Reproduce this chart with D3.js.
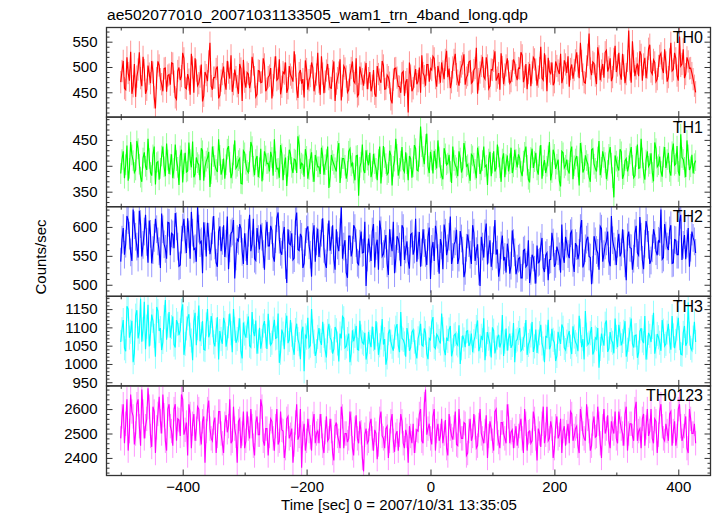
<!DOCTYPE html>
<html><head><meta charset="utf-8">
<script src="https://cdn.jsdelivr.net/npm/d3@7"></script>
<style>body{margin:0;background:#fff}svg{display:block}text{font-family:"Liberation Sans",Arial,Helvetica,sans-serif;fill:#000}</style>
</head><body><div id="c"></div>
<script>
const title = "ae502077010_20071031133505_wam1_trn_4band_long.qdp";
const xLabel = "Time [sec] 0 = 2007/10/31 13:35:05";
const yLabel = "Counts/sec";
const panelNames = ["TH0","TH1","TH2","TH3","TH0123"];
const panelColors = ["#ff0000","#00ff00","#0000ff","#00ffff","#ff00ff"];
const timeStart = -500, timeStep = 2;
const xDomain = [-523, 452];
const xMajorTicks = [-400,-200,0,200,400];
const xMinorTicks = [-500,-300,-100,100,300];
const yDomains = [[401,578],[321,494],[480,635],[940,1185],[2328,2695]];
const yMajorTicks = [[450,500,550],[350,400,450],[500,550,600],[950,1000,1050,1100,1150],[2400,2500,2600]];
const yMinorStep = [10,10,10,10,20];
const errHalf = [22,20,24,33,50];

// even bins (t = -500, -496, ...) and odd bins (t = -498, -494, ...)
const th0Even = [470,512,455,488,530,462,441,495,478,520,447,503,468,489,418,511,476,452,498,483,
465,507,440,492,474,528,459,486,445,499,517,463,481,432,490,472,548,455,479,501,
444,486,468,512,477,451,495,462,506,433,471,489,458,520,480,446,492,470,505,457,
483,438,499,474,515,461,487,449,502,479,531,456,488,467,440,496,474,509,452,485,
470,521,448,493,476,458,511,467,489,434,502,481,455,498,472,517,446,487,463,508,
478,452,494,441,486,469,503,457,480,436,475,498,462,449,491,470,410,483,458,496,
472,449,488,463,505,497,521,478,502,469,491,514,480,458,499,526,473,490,507,465,
484,512,471,498,447,489,520,476,503,462,494,531,479,455,500,485,517,468,492,508,
474,497,523,481,456,506,489,515,463,498,478,527,452,491,509,470,502,486,468,513,
488,461,505,494,529,478,512,470,501,566,484,507,466,521,493,479,533,499,472,516,
490,528,475,503,486,572,469,511,497,482,524,505,478,536,491,514,471,502,527,488,
509,480,548,495,517,473,502,535,486,511,498,476,450];
const th0Odd = [492,458,519,473,447,506,481,529,462,494,455,487,512,440,478,503,466,497,451,485,
508,471,436,499,482,517,457,475,526,449,493,468,505,443,484,511,462,479,496,438,
473,501,455,489,523,466,480,447,497,514,459,486,472,505,441,493,469,517,452,480,
498,464,521,477,446,490,509,458,485,471,503,439,494,476,513,455,482,499,467,528,
445,487,471,506,459,492,433,478,515,463,497,450,484,511,468,442,501,476,489,456,
490,463,447,502,475,512,456,484,469,428,497,479,461,488,443,476,509,452,481,466,
499,523,482,505,471,494,517,461,488,509,476,532,497,470,514,486,463,501,525,479,
510,468,494,538,476,502,481,519,457,495,512,473,488,527,466,503,491,472,515,484,
498,529,470,506,488,462,519,495,481,540,474,502,518,487,464,511,493,526,479,505,
521,496,477,513,502,548,485,468,524,497,510,483,539,474,506,529,491,517,480,542,
503,487,526,468,512,495,551,482,507,531,473,518,499,544,486,509,476,522,497,535,
471,515,492,528,483,560,506,478,519,497,488,463];

const th1Even = [385,428,402,371,446,410,392,433,378,415,399,452,387,421,364,408,395,437,380,411,
403,376,441,397,419,368,425,390,412,447,384,406,372,429,398,415,359,437,401,388,
420,393,375,432,407,386,449,399,414,365,425,391,408,437,382,419,396,370,428,404,
389,416,451,394,377,423,402,361,431,397,413,386,440,405,379,418,393,426,369,410,
398,435,383,412,357,421,403,389,444,396,414,375,428,400,386,419,342,407,392,430,
401,378,423,395,412,366,438,404,387,420,399,452,381,409,393,426,372,414,398,433,
390,476,418,441,399,427,385,412,449,396,374,423,405,389,437,401,380,415,396,428,
402,371,419,393,435,384,410,398,363,427,405,389,441,396,413,378,420,404,386,431,
397,415,380,426,401,368,433,408,392,419,375,411,399,446,387,422,403,371,428,396,
412,385,437,400,419,362,425,394,410,378,431,403,389,448,397,416,374,422,405,339,
409,391,427,383,414,400,436,377,418,395,452,386,411,399,424,370,433,402,389,417,
396,425,381,443,404,389,461,412,378,421,398,385,410];
const th1Odd = [412,376,439,395,421,387,448,403,369,426,392,414,381,437,406,373,419,398,443,384,
422,395,410,363,431,404,388,445,397,378,416,402,434,371,409,427,385,418,393,451,
383,414,402,438,376,421,395,410,366,429,403,387,446,399,412,378,433,392,419,405,
427,381,408,395,440,372,416,399,423,386,411,457,394,402,432,375,413,389,421,398,
384,419,402,437,379,410,396,428,367,414,401,389,433,405,372,420,397,441,386,411,
425,389,404,372,437,398,416,383,429,362,409,422,395,436,388,404,419,377,440,392,
418,437,403,462,386,411,429,395,417,381,434,402,421,367,410,396,428,387,444,399,
386,422,405,376,418,392,437,401,413,380,428,396,417,369,424,403,389,435,398,412,
422,389,409,437,374,416,396,425,383,440,400,386,419,372,431,394,412,360,425,401,
391,427,374,413,398,444,387,420,403,369,433,395,417,382,428,406,391,436,377,420,
398,432,375,410,389,423,401,381,441,396,415,373,428,404,387,445,398,418,379,436,
412,389,427,401,438,381,416,397,449,392,421,404];

const th2Even = [540,598,571,612,556,630,583,547,605,569,621,538,588,560,614,575,529,596,562,608,
551,587,624,566,534,599,578,615,545,590,563,636,572,520,584,607,553,594,568,531,
601,576,548,618,563,592,511,579,605,557,589,534,621,570,545,598,561,583,526,609,
567,594,540,615,578,552,600,503,571,589,546,625,559,583,537,596,568,514,603,575,
548,590,562,529,611,577,544,596,558,635,566,521,584,549,603,572,535,592,556,498,
580,541,605,567,526,594,553,586,517,572,609,545,579,532,598,561,541,587,552,614,
568,531,596,555,583,510,574,602,546,579,527,590,563,618,548,575,536,593,559,524,
587,552,603,541,570,498,566,589,535,577,549,612,561,530,585,548,571,519,594,556,
528,547,512,561,534,503,552,526,568,540,581,522,555,543,590,531,566,549,604,538,
571,546,593,522,567,555,612,537,578,549,501,584,560,526,597,553,575,541,619,566,
534,588,556,571,508,592,563,545,602,551,583,527,610,569,542,596,558,576,630,547,
585,560,603,538,577,552,621,569,544,598,564,581,555];
const th2Odd = [578,552,619,585,541,603,566,628,549,592,574,611,537,581,596,558,623,570,545,607,
589,563,601,532,578,614,555,587,626,561,540,597,575,608,549,583,566,619,538,592,
558,603,571,527,589,612,549,576,597,536,565,590,558,614,542,579,604,553,588,567,
602,548,579,625,557,586,534,596,569,543,610,561,588,529,574,601,552,583,540,597,
571,615,537,582,559,603,526,568,591,545,577,512,584,560,598,538,571,555,609,547,
563,592,530,578,611,549,571,537,596,558,520,584,566,603,543,575,528,589,561,540,
591,556,572,534,599,562,541,587,519,568,604,551,583,536,570,595,547,580,513,564,
572,536,590,558,523,583,547,606,561,531,577,552,514,568,542,521,556,533,572,518,
545,512,559,531,577,524,547,502,538,566,529,551,508,544,573,536,558,521,549,583,
553,589,538,572,544,598,530,563,583,547,526,575,555,601,540,568,592,532,577,558,
571,549,596,537,582,564,526,589,555,617,543,571,598,536,563,586,551,574,544,605,
566,594,537,578,552,609,543,586,571,531,592,575];

const th3Even = [1060,1120,1035,1150,1088,1005,1132,1070,1178,1095,1040,1162,1083,1118,1020,1145,1098,1060,1175,1105,
1072,1130,1045,1110,1092,1163,1055,1125,1080,1010,1140,1098,1062,1117,1038,1150,1085,1106,1048,1128,
1090,1055,1112,1070,1138,1032,1096,1068,1125,1015,1083,1104,1050,1142,1076,1028,1099,1063,1117,1041,
1086,1058,1121,1072,1003,1094,1040,1132,1066,1080,1025,1110,1054,1088,980,1072,1045,1150,1061,1035,
1098,1052,1077,1018,1110,1064,1041,1092,1007,1070,1125,1048,1083,1029,1062,1104,1038,1075,1055,1012,
1088,1046,1068,1117,1025,1072,1053,998,1084,1061,1036,1099,1050,1142,1066,1020,1079,1045,1093,1032,
1070,1110,1049,1085,1013,1066,1128,1042,1075,1056,1095,1024,1063,1104,1037,1082,1051,1000,1078,1046,
1091,1058,1032,1076,1119,1048,1065,1010,1087,1054,1100,1029,1072,1045,1134,1061,1036,1083,1052,1005,
1067,1098,1041,1079,1025,1062,1115,1048,1030,1084,1056,1005,1073,1040,1096,1058,1022,1069,1108,1044,
1061,1090,1027,1075,1053,1132,1046,1012,1080,1058,1101,1035,1068,990,1083,1050,1119,1042,1065,1029,
1074,1107,1051,1088,1020,1066,1124,1045,1079,1031,1098,1057,1012,1085,1060,1140,1048,1073,1036,1091,
1055,1110,1039,1078,1063,1126,1027,1085,1050,1168,1044,1072,1060];
const th3Odd = [1095,1043,1158,1072,1118,1030,1147,1088,1061,1170,1102,1048,1135,1077,1156,1090,1038,1128,1066,1142,
1101,1053,1120,1079,1145,1025,1097,1136,1064,1115,1051,1160,1082,1040,1108,1073,1131,1059,1093,1012,
1068,1126,1047,1103,1084,1150,1058,1092,1035,1113,1072,1130,1046,1089,1119,1061,1042,1105,1076,1137,
1052,1097,1070,1138,1031,1083,1106,1057,1120,1044,1093,1068,1013,1102,1078,1126,1050,1089,1022,1074,
1063,1115,1037,1090,1072,1028,1101,1056,1083,1130,1044,1068,1005,1092,1077,1040,1118,1059,1085,1033,
1060,1102,1039,1081,1051,1123,1068,1018,1094,1047,1075,1109,1032,1070,1056,1098,1036,1087,1061,1015,
1084,1052,1097,1028,1070,1115,1046,1081,1063,1138,1039,1072,1094,1021,1078,1056,1106,1043,1067,1089,
1049,1083,1062,1101,1035,1077,1125,1054,1069,1018,1091,1045,1080,1059,1022,1097,1070,1044,1112,1063,
1085,1036,1069,1120,1052,1078,1033,1094,1061,1107,1042,1075,1121,1050,1066,1008,1088,1055,1099,1038,
1079,1047,1103,1060,1035,1091,1068,1145,1053,1084,1026,1072,1098,1041,1066,1110,1033,1087,1058,1124,
1046,1082,1063,1117,1039,1095,1055,1078,1017,1089,1064,1131,1045,1077,1101,1028,1082,1058,1120,1049,
1086,1062,1131,1043,1097,1071,1025,1104,1058,1083,1037,1115];

const th0123Even = [2480,2620,2540,2430,2660,2570,2500,2640,2450,2590,2530,2685,2490,2610,2420,2580,2550,2660,2470,2600,
2530,2450,2620,2560,2490,2640,2515,2410,2580,2540,2470,2610,2500,2550,2380,2600,2520,2470,2565,2490,
2590,2460,2540,2505,2640,2470,2520,2380,2560,2500,2440,2590,2480,2530,2410,2570,2495,2610,2450,2520,
2490,2550,2430,2600,2470,2515,2400,2560,2480,2520,2455,2620,2490,2360,2540,2470,2510,2430,2580,2500,
2460,2530,2420,2570,2480,2510,2390,2545,2470,2610,2440,2500,2480,2540,2410,2575,2460,2505,2345,2520,
2470,2560,2430,2500,2455,2590,2480,2520,2400,2550,2470,2495,2430,2580,2460,2515,2380,2490,2540,2470,
2510,2600,2460,2680,2520,2480,2570,2430,2540,2490,2460,2555,2410,2520,2475,2590,2450,2510,2480,2540,
2420,2560,2490,2525,2450,2600,2480,2510,2400,2550,2470,2590,2500,2440,2545,2480,2620,2460,2515,2490,
2450,2530,2480,2600,2430,2510,2470,2560,2390,2500,2540,2460,2610,2480,2520,2440,2570,2495,2420,2530,
2505,2460,2580,2490,2530,2420,2560,2480,2620,2510,2450,2570,2490,2540,2400,2600,2520,2470,2550,2500,
2480,2590,2520,2450,2610,2500,2540,2470,2630,2510,2440,2580,2525,2490,2600,2460,2550,2495,2620,2480,
2540,2470,2590,2510,2450,2600,2530,2490,2570,2420,2560,2500,2460];
const th0123Odd = [2570,2460,2640,2510,2590,2455,2620,2530,2680,2480,2560,2610,2445,2590,2525,2650,2500,2575,2430,2620,
2510,2600,2470,2555,2660,2495,2545,2620,2440,2580,2520,2600,2455,2570,2510,2635,2480,2545,2420,2590,
2500,2420,2575,2530,2460,2610,2490,2550,2440,2590,2470,2520,2600,2450,2545,2495,2640,2470,2520,2410,
2560,2480,2530,2455,2590,2510,2440,2570,2495,2380,2545,2475,2600,2500,2430,2560,2485,2540,2460,2510,
2580,2450,2505,2470,2560,2420,2530,2490,2440,2570,2500,2465,2590,2440,2520,2480,2550,2400,2495,2460,
2540,2480,2515,2395,2560,2490,2440,2530,2470,2580,2425,2510,2495,2550,2440,2490,2530,2460,2420,2515,
2580,2470,2620,2495,2540,2455,2600,2510,2470,2560,2500,2440,2580,2490,2525,2455,2600,2480,2545,2410,
2510,2470,2580,2440,2535,2500,2460,2575,2490,2520,2430,2600,2465,2545,2500,2460,2570,2505,2440,2530,
2490,2560,2420,2540,2505,2460,2590,2480,2520,2445,2610,2495,2470,2550,2400,2530,2480,2560,2510,2450,
2540,2590,2470,2520,2450,2600,2500,2470,2560,2430,2540,2485,2610,2460,2530,2500,2575,2440,2520,2590,
2460,2550,2500,2580,2430,2540,2490,2600,2470,2520,2560,2450,2600,2510,2480,2560,2420,2590,2530,2470,
2510,2580,2450,2550,2490,2620,2470,2530,2440,2600,2500,2540];

const interleave = (a, b) => d3.merge(a.map((v, i) => i < b.length ? [v, b[i]] : [v]));
const series = [
  interleave(th0Even, th0Odd), interleave(th1Even, th1Odd), interleave(th2Even, th2Odd),
  interleave(th3Even, th3Odd), interleave(th0123Even, th0123Odd)
];

const W = 717, H = 516;
const plotL = 106.5, plotR = 710.5, plotT = 27.5, panelH = 89.6;
const svg = d3.select("#c").append("svg").attr("width", W).attr("height", H);
const x = d3.scaleLinear().domain(xDomain).range([plotL, plotR]);
const FONT = '"Liberation Sans",Arial,sans-serif';

svg.append("text").attr("x", 107).attr("y", 20).attr("font-size", 15.5)
  .attr("textLength", 421).attr("lengthAdjust", "spacingAndGlyphs").text(title);

series.forEach((vals, p) => {
  const y0 = plotT + p * panelH, y1 = y0 + panelH;
  const y = d3.scaleLinear().domain(yDomains[p]).range([y1, y0]);
  const g = svg.append("g");
  const clipId = "clip" + p;
  svg.append("clipPath").attr("id", clipId).append("rect")
    .attr("x", plotL).attr("y", y0).attr("width", plotR - plotL).attr("height", panelH);
  const dg = g.append("g").attr("clip-path", `url(#${clipId})`);
  const pts = vals.map((v, i) => ({t: timeStart + i * timeStep, v}));
  dg.selectAll("line.err").data(pts).join("line").attr("class", "err")
    .attr("x1", d => x(d.t)).attr("x2", d => x(d.t))
    .attr("y1", d => y(d.v - errHalf[p])).attr("y2", d => y(d.v + errHalf[p]))
    .attr("stroke", panelColors[p]).attr("stroke-opacity", 0.42).attr("stroke-width", 1);
  dg.append("path").datum(pts)
    .attr("d", d3.line().x(d => x(d.t)).y(d => y(d.v)))
    .attr("fill", "none").attr("stroke", panelColors[p]).attr("stroke-width", 1.15);

  const axL = d3.axisLeft(y).tickValues(yMajorTicks[p]).tickSize(-6).tickPadding(9).tickFormat(d3.format("d"));
  const gl = g.append("g").attr("transform", `translate(${plotL},0)`).call(axL);
  gl.select(".domain").remove();
  gl.selectAll("text").attr("font-size", 15).attr("font-family", FONT).attr("fill", "#000");
  gl.selectAll("line").attr("stroke", "#333");
  const minors = d3.range(Math.ceil(yDomains[p][0] / yMinorStep[p]) * yMinorStep[p], yDomains[p][1], yMinorStep[p])
    .filter(v => !yMajorTicks[p].includes(v));
  const glm = g.append("g").attr("transform", `translate(${plotL},0)`)
    .call(d3.axisLeft(y).tickValues(minors).tickSize(-3).tickFormat(""));
  glm.select(".domain").remove(); glm.selectAll("line").attr("stroke", "#333");
  const gr = g.append("g").attr("transform", `translate(${plotR},0)`)
    .call(d3.axisRight(y).tickValues(yMajorTicks[p]).tickSize(-6).tickFormat(""));
  gr.select(".domain").remove(); gr.selectAll("line").attr("stroke", "#333");
  const grm = g.append("g").attr("transform", `translate(${plotR},0)`)
    .call(d3.axisRight(y).tickValues(minors).tickSize(-3).tickFormat(""));
  grm.select(".domain").remove(); grm.selectAll("line").attr("stroke", "#333");

  [[d3.axisTop, y0], [d3.axisBottom, y1]].forEach(([fn, yy]) => {
    const a = g.append("g").attr("transform", `translate(0,${yy})`)
      .call(fn(x).tickValues(xMajorTicks).tickSize(-6).tickFormat(""));
    a.select(".domain").remove(); a.selectAll("line").attr("stroke", "#333");
    const b = g.append("g").attr("transform", `translate(0,${yy})`)
      .call(fn(x).tickValues(xMinorTicks).tickSize(-3).tickFormat(""));
    b.select(".domain").remove(); b.selectAll("line").attr("stroke", "#333");
  });

  g.append("rect").attr("x", plotL).attr("y", y0).attr("width", plotR - plotL).attr("height", panelH)
    .attr("fill", "none").attr("stroke", "#333").attr("stroke-width", 1.3);

  g.append("text").attr("x", 703).attr("y", y0 + 15.5).attr("text-anchor", "end")
    .attr("font-size", 16).text(panelNames[p]);

  if (p === series.length - 1) {
    const bx = g.append("g").attr("transform", `translate(0,${y1})`)
      .call(d3.axisBottom(x).tickValues(xMajorTicks).tickSize(0).tickPadding(6)
        .tickFormat(d => d < 0 ? "\u2212" + Math.abs(d) : String(d)));
    bx.select(".domain").remove();
    bx.selectAll("text").attr("font-size", 15).attr("font-family", FONT).attr("fill", "#000");
  }
});

svg.append("text").attr("x", 399).attr("y", 510).attr("text-anchor", "middle").attr("font-size", 15).text(xLabel);
svg.append("text").attr("transform", "translate(46,257) rotate(-90)").attr("text-anchor", "middle").attr("font-size", 15).text(yLabel);
</script></body></html>
